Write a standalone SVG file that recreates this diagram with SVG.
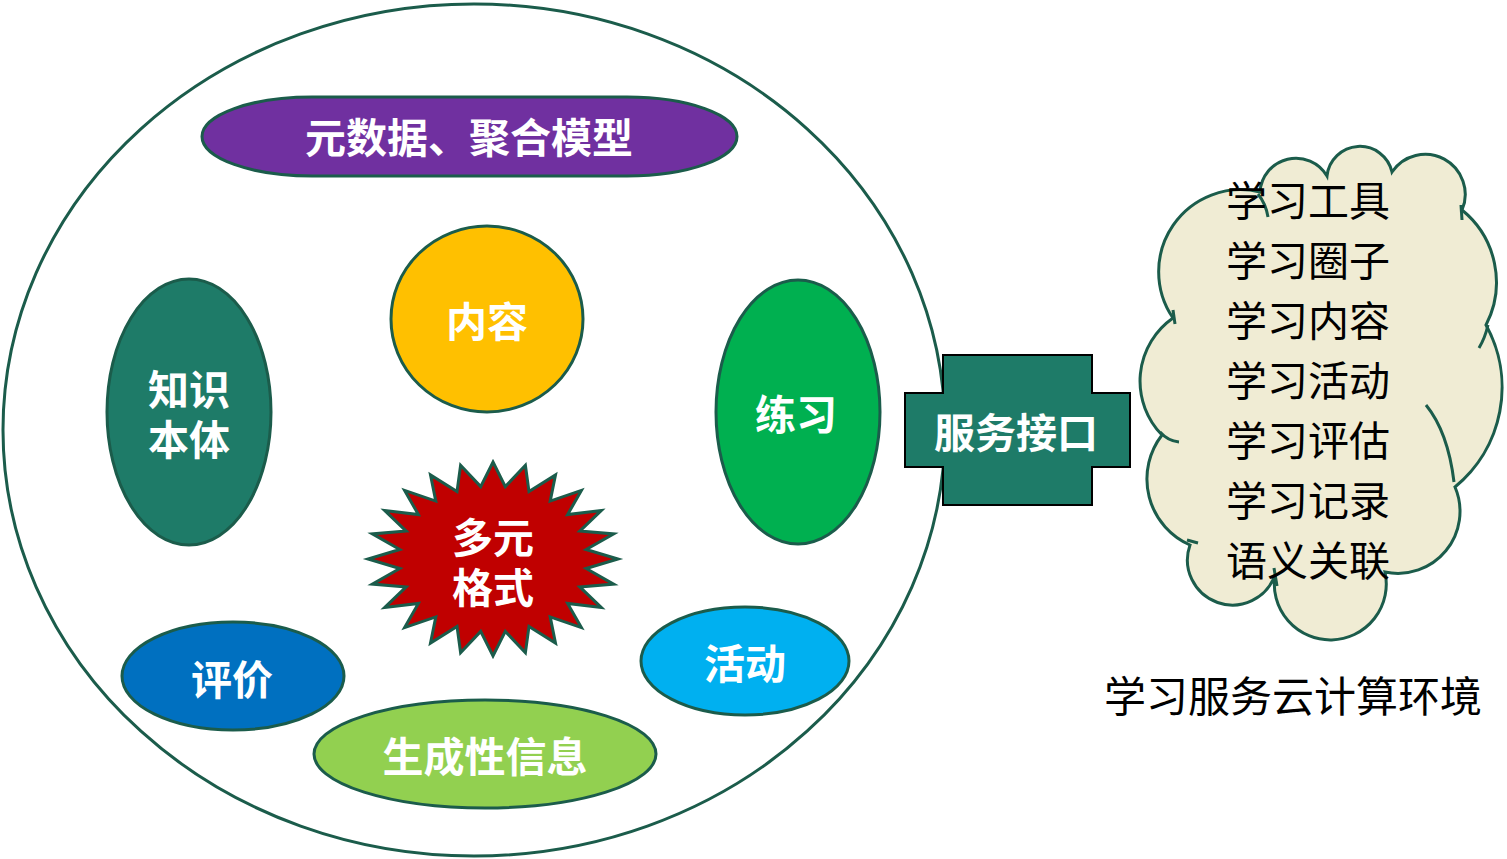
<svg xmlns="http://www.w3.org/2000/svg" width="1507" height="859" viewBox="0 0 1507 859">
<style>
.sh{stroke:#1b5c4b;stroke-width:3}
.wt{fill:#ffffff;font-family:"Noto Sans CJK SC","Noto Sans",sans-serif;font-weight:bold;font-size:41px;text-anchor:middle}
.bt{fill:#000000;font-family:"Noto Sans CJK SC","Noto Sans",sans-serif;font-size:41px}
.tick{fill:none;stroke:#1b5c4b;stroke-width:3}
</style>
<rect width="1507" height="859" fill="#ffffff"/>
<g id="env">
<ellipse cx="474" cy="430" rx="471" ry="426" fill="#ffffff" class="sh"/>
</g>
<g id="meta">
<rect x="202" y="97" width="535" height="79" rx="110" ry="39.5" fill="#7030a0" class="sh"/>
<text x="469" y="153" class="wt">元数据、聚合模型</text>
</g>
<g id="content">
<ellipse cx="487" cy="319" rx="96" ry="93" fill="#ffc000" class="sh"/>
<text x="487" y="337" class="wt">内容</text>
</g>
<g id="ontology">
<ellipse cx="189" cy="412" rx="82" ry="133" fill="#1e7b68" class="sh"/>
<text x="189" y="405" class="wt">知识</text>
<text x="189" y="455" class="wt">本体</text>
</g>
<g id="exercise">
<ellipse cx="798" cy="412" rx="82" ry="132" fill="#00b050" class="sh"/>
<text x="796" y="430" class="wt">练习</text>
</g>
<g id="formats">
<polygon class="sh" fill="#c00000" points="493,462 505.3,486.6 525.4,465.3 529,491.6 555.5,475 550.2,501.1 581.4,490.4 567.6,514.6 601.3,510.5 579.8,531.1 613.7,533.9 586.2,549.5 618,559 586.2,568.5 613.7,584.1 579.8,586.9 601.3,607.5 567.6,603.4 581.4,627.6 550.2,616.9 555.5,643 529,626.4 525.4,652.7 505.3,631.4 493,656 480.7,631.4 460.6,652.7 457,626.4 430.5,643 435.8,616.9 404.6,627.6 418.4,603.4 384.7,607.5 406.2,586.9 372.3,584.1 399.8,568.5 368,559 399.8,549.5 372.3,533.9 406.2,531.1 384.7,510.5 418.4,514.6 404.6,490.4 435.8,501.1 430.5,475 457,491.6 460.6,465.3 480.7,486.6"/>
<text x="493" y="553" class="wt">多元</text>
<text x="493" y="603" class="wt">格式</text>
</g>
<g id="evaluation">
<ellipse cx="233" cy="676" rx="111" ry="54" fill="#0070c0" class="sh"/>
<text x="232" y="695" class="wt">评价</text>
</g>
<g id="activity">
<ellipse cx="745" cy="661" rx="104" ry="54" fill="#00b0f0" class="sh"/>
<text x="745" y="679" class="wt">活动</text>
</g>
<g id="generative">
<ellipse cx="485" cy="754" rx="171" ry="54" fill="#92d050" class="sh"/>
<text x="485" y="772" class="wt">生成性信息</text>
</g>
<g id="connectors"></g>
<g id="interface">
<path d="M943,355 H1092 V393 H1130 V467 H1092 V505 H943 V467 H905 V393 H943 Z" fill="#1e7b68" stroke="#000000" stroke-width="2"/>
<text x="1016" y="448" class="wt">服务接口</text>
</g>
<g id="cloud">
<path d="M1173,318 A82,82 0 0 1 1260,192 A36,36 0 0 1 1327,176 A33,33 0 0 1 1392,172 A40,40 0 0 1 1462,210 A93,93 0 0 1 1486,325 A129,129 0 0 1 1455,487 A62,62 0 0 1 1385,572 A56,56 0 1 1 1275,575 A45,45 0 0 1 1190,545 A72,72 0 0 1 1162,435 A77,77 0 0 1 1173,318 Z" fill="#f0ecd4" class="sh"/>
<path class="tick" d="M1258,194 Q1266,204 1268,217"/>
<path class="tick" d="M1461,205 L1462,220"/>
<path class="tick" d="M1488,325 Q1485,338 1479,348"/>
<path class="tick" d="M1426,405 Q1448,432 1454,482"/>
<path class="tick" d="M1187,540 L1198,543"/>
<path class="tick" d="M1160,432 Q1168,441 1179,442"/>
<path class="tick" d="M1173,310 L1175,324"/>
<path class="tick" d="M1274,568 L1277,586"/>
<text x="1226" y="216" class="bt">学习工具</text>
<text x="1226" y="276" class="bt">学习圈子</text>
<text x="1226" y="336" class="bt">学习内容</text>
<text x="1226" y="396" class="bt">学习活动</text>
<text x="1226" y="456" class="bt">学习评估</text>
<text x="1226" y="516" class="bt">学习记录</text>
<text x="1226" y="576" class="bt">语义关联</text>
</g>
<g id="label">
<text x="1104" y="712" class="bt" style="font-size:42px">学习服务云计算环境</text>
</g>
</svg>
